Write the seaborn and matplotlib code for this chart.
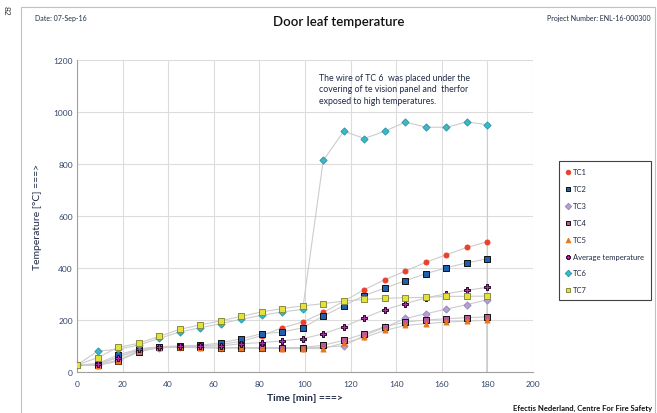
import numpy as np
import pandas as pd
import matplotlib
matplotlib.use("Agg")
import matplotlib.pyplot as plt
from matplotlib.patches import Rectangle
import seaborn as sns

# time [min] and temperatures [C]
time = [0, 9, 18, 27, 36, 45, 54, 63, 72, 81, 90, 99, 108, 117, 126, 135, 144, 153, 162, 171, 180]
tc1 = [27, 30, 58, 85, 95, 98, 100, 106, 118, 140, 170, 192, 229, 272, 317, 355, 388, 422, 451, 479, 501]
tc2 = [27, 32, 66, 88, 97, 100, 103, 112, 128, 147, 154, 170, 215, 255, 294, 323, 351, 378, 401, 420, 435]
tc3 = [27, 28, 45, 82, 94, 96, 95, 94, 94, 93, 93, 94, 95, 101, 140, 172, 206, 224, 242, 259, 278]
tc4 = [27, 28, 42, 77, 95, 97, 95, 94, 94, 94, 93, 94, 103, 122, 147, 174, 192, 200, 205, 209, 212]
tc5 = [27, 25, 42, 80, 93, 95, 93, 92, 92, 91, 90, 90, 90, 112, 133, 160, 179, 186, 192, 196, 199]
avg = [27, 30, 55, 88, 97, 99, 100, 100, 109, 113, 120, 128, 147, 174, 208, 240, 263, 285, 301, 314, 326]
tc6 = [27, 80, 88, 103, 129, 154, 170, 186, 203, 218, 231, 241, 814, 926, 898, 926, 961, 942, 941, 962, 951]
tc7 = [27, 55, 95, 110, 137, 164, 181, 197, 214, 231, 244, 254, 263, 273, 279, 283, 286, 287, 291, 291, 292]
end_time = 180  # every series drops back to 0 at the end
end_value = 0

names = ["TC1", "TC2", "TC3", "TC4", "TC5", "Average temperature", "TC6", "TC7"]
values = [tc1, tc2, tc3, tc4, tc5, avg, tc6, tc7]
markers = ["o", "s", "D", "s", "^", "P", "D", "s"]
faces = ["#E8412C", "#1F5FAD", "#B49FD6", "#C0569A", "#E8761C", "#B02FA8", "#3CB8C8", "#E2E23A"]
edges = ["#E8412C", "#111111", "#9A8AB8", "#111111", "#E8761C", "#2A0A2A", "#2A9AA8", "#8A8A40"]

sns.set_style("white")
plt.rcParams["font.family"] = ["Lato", "DejaVu Sans"]
text_col = "#1F2A44"

fig = plt.figure(figsize=(6.57, 4.14), dpi=100)
ax = fig.add_axes([77 / 657, 41 / 414, 456 / 657, 312 / 414])

for name, vals in zip(names, values):
    lx = time + [end_time]
    ly = vals + [end_value]
    sns.lineplot(x=lx, y=ly, ax=ax, color="#cccccc", linewidth=0.8,
                 sort=False, estimator=None, legend=False, zorder=2)

for name, vals, m, fc, ec in zip(names, values, markers, faces, edges):
    df = pd.DataFrame({"time": time, "temp": vals})
    sns.scatterplot(data=df, x="time", y="temp", ax=ax, marker=m, color=fc,
                    edgecolor=ec, linewidth=0.7, s=13, label=name, zorder=3)

ax.set_xlim(0, 200)
ax.set_ylim(0, 1200)
ax.set_xticks(np.arange(0, 201, 20))
ax.set_yticks(np.arange(0, 1201, 200))
ax.grid(True, color="#dcdcdc", linewidth=0.8)
ax.set_axisbelow(True)
for s in ["top", "right"]:
    ax.spines[s].set_visible(False)
for s in ["left", "bottom"]:
    ax.spines[s].set_color("#a0a0a0")
    ax.spines[s].set_linewidth(0.8)
ax.tick_params(axis="both", labelsize=6, colors="#a0a0a0", labelcolor="#34466a",
               length=3, width=0.6, pad=3)
ax.tick_params(axis="y", length=0)

ax.set_xlabel("Time [min] ===>", fontsize=7.5, fontweight="bold", color=text_col, labelpad=4)
ax.set_ylabel("Temperature [°C] ===>", fontsize=7.5, color=text_col, labelpad=8)

ax.text(106, 1150, "The wire of TC 6  was placed under the\ncovering of te vision panel and  therfor\nexposed to high temperatures.",
        fontsize=6.3, va="top", ha="left", color=text_col, linespacing=1.35)

leg = ax.legend(loc="upper left", bbox_to_anchor=(559 / 657, 1 - 162 / 414),
                bbox_transform=fig.transFigure, fontsize=5.5, frameon=True,
                fancybox=False, edgecolor="#111111", labelspacing=1.3,
                handlelength=0.6, handletextpad=0.3, borderpad=0.9,
                borderaxespad=0, markerscale=0.9)
leg.get_frame().set_linewidth(0.8)
for t in leg.get_texts():
    t.set_color(text_col)

# page frame and header/footer
fig.add_artist(Rectangle((21 / 657, -0.02), 634 / 657, 1.02 - 8 / 414,
                         transform=fig.transFigure, fill=False,
                         edgecolor="#c0c0c0", linewidth=0.8))
fig.text(35 / 657, 1 - 18 / 414, "Date: 07-Sep-16", fontsize=5, color=text_col, va="center")
fig.text(339 / 657, 1 - 22 / 414, "Door leaf temperature", fontsize=9.5, fontweight="semibold",
         color="#111111", ha="center", va="center")
fig.text(651 / 657, 1 - 18 / 414, "Project Number: ENL-16-000300", fontsize=5,
         color=text_col, ha="right", va="center")
fig.text(652 / 657, 1 - 408 / 414, "Efectis Nederland, Centre For Fire Safety", fontsize=5.5,
         fontweight="bold", color="#111111", ha="right", va="center")
fig.text(6 / 657, 1 - 11 / 414, "82", fontsize=6, rotation=-90, color="#333333",
         ha="center", va="center")

fig.savefig("out.png", dpi=100)
